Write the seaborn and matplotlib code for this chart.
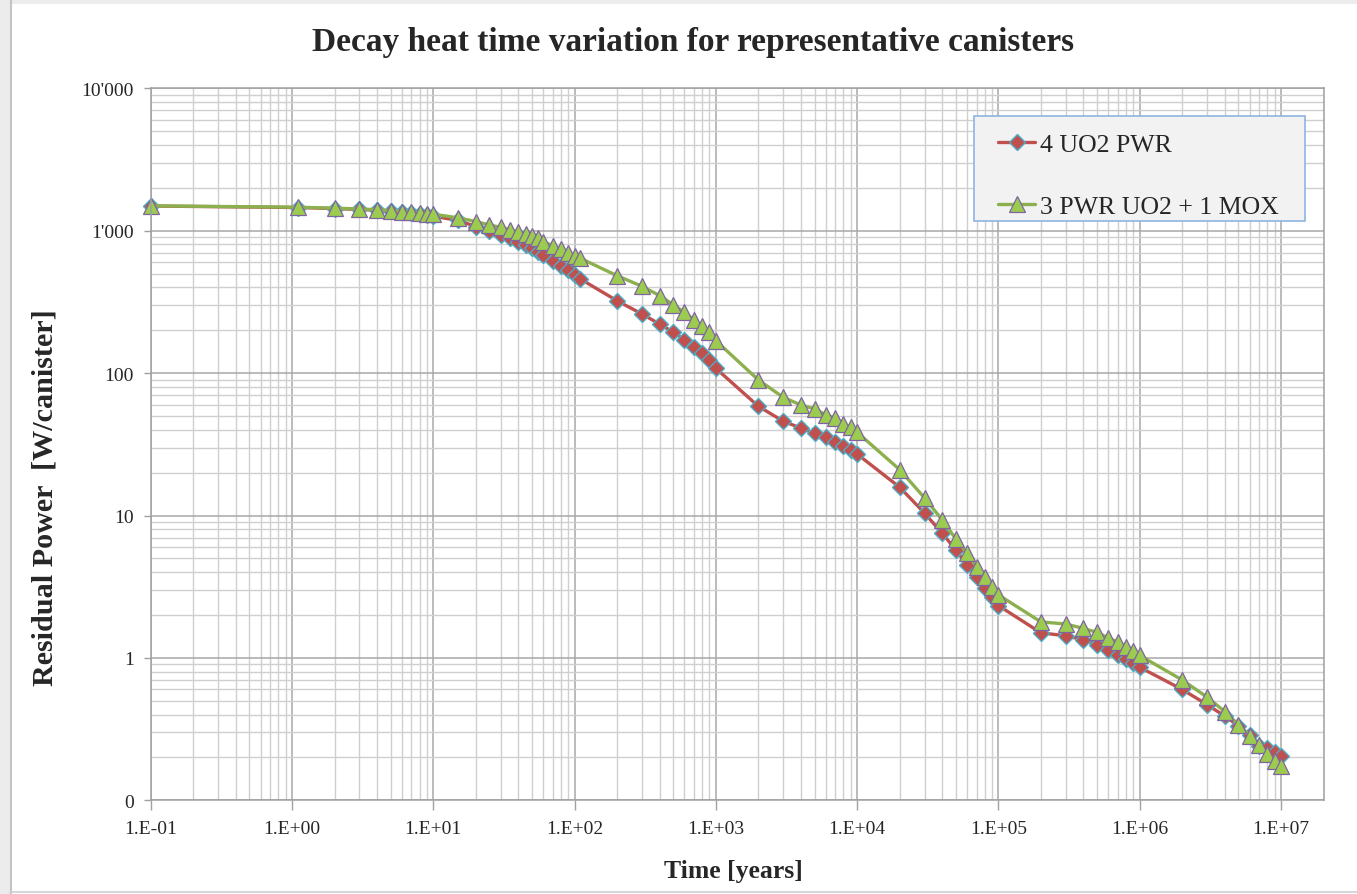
import pandas as pd
import seaborn as sns
import matplotlib.pyplot as plt
from matplotlib.ticker import FixedLocator, FixedFormatter, LogLocator, NullFormatter
from matplotlib.patches import Rectangle
from matplotlib.lines import Line2D

# time points [years]
years = [0.1, 1.1, 2, 3, 4, 5, 6, 7, 8, 9, 10,
         15, 20, 25, 30, 35, 40, 45, 50, 55, 60, 70, 80, 90, 100, 110,
         200, 300, 400, 500, 600, 700, 800, 900, 1000,
         2000, 3000, 4000, 5000, 6000, 7000, 8000, 9000, 10000,
         2e4, 3e4, 4e4, 5e4, 6e4, 7e4, 8e4, 9e4, 1e5,
         2e5, 3e5, 4e5, 5e5, 6e5, 7e5, 8e5, 9e5, 1e6,
         2e6, 3e6, 4e6, 5e6, 6e6, 7e6, 8e6, 9e6, 1e7]

# residual power [W/canister]
uo2_pwr = [1490, 1455, 1430, 1410, 1390, 1365, 1345, 1325, 1305, 1285, 1265,
           1180, 1070, 991, 934, 885, 838, 794, 752, 712, 675, 615, 568, 530, 489, 458,
           322, 260, 221, 194, 171, 153, 138, 124, 108,
           58.5, 45.9, 41.1, 37.8, 35.4, 33.0, 30.9, 29.0, 27.0,
           15.8, 10.4, 7.5, 5.73, 4.49, 3.72, 3.08, 2.67, 2.33,
           1.50, 1.43, 1.34, 1.24, 1.14, 1.05, 0.98, 0.92, 0.86,
           0.60, 0.47, 0.39, 0.334, 0.288, 0.242, 0.232, 0.219, 0.206]

pwr_mox = [1495, 1462, 1440, 1422, 1405, 1382, 1362, 1347, 1332, 1318, 1305,
           1232, 1160, 1096, 1057, 1012, 975, 948, 922, 885, 838, 785, 743, 697, 667, 640,
           483, 407, 350, 302, 267, 236, 215, 194, 169,
           89.5, 67.6, 59.7, 56.0, 51.0, 48.2, 44.0, 41.6, 38.4,
           21.0, 13.3, 9.3, 6.84, 5.43, 4.37, 3.68, 3.13, 2.77,
           1.79, 1.73, 1.61, 1.51, 1.38, 1.29, 1.19, 1.11, 1.04,
           0.70, 0.53, 0.42, 0.34, 0.284, 0.246, 0.211, 0.190, 0.175]

series_names = ['4 UO2 PWR', '3 PWR UO2 + 1 MOX']

x_ticks = [1e-1, 1e0, 1e1, 1e2, 1e3, 1e4, 1e5, 1e6, 1e7]
x_tick_labels = ['1.E-01', '1.E+00', '1.E+01', '1.E+02', '1.E+03',
                 '1.E+04', '1.E+05', '1.E+06', '1.E+07']
y_ticks = [0.1, 1, 10, 100, 1000, 10000]
y_tick_labels = ['0', '1', '10', '100', "1'000", "10'000"]

n = len(years)
df = pd.DataFrame({
    'years': years * 2,
    'power': uo2_pwr + pwr_mox,
    'canister': [series_names[0]] * n + [series_names[1]] * n,
})

sns.set_theme(style="white")
plt.rcParams['font.family'] = ['Liberation Serif', 'DejaVu Serif']

W, H = 1357, 895
fig = plt.figure(figsize=(W / 100, H / 100), dpi=100)

# plot area in pixels
px_l, px_r, px_t, px_b = 150.7, 1323.5, 89.3, 801.3
ax = fig.add_axes([px_l / W, 1 - px_b / H, (px_r - px_l) / W, (px_b - px_t) / H])

styles = {
    series_names[0]: dict(color='#C0504D', marker='D', markersize=8,
                          markerfacecolor='#C0504D', markeredgecolor='#4BACC6',
                          markeredgewidth=1.0),
    series_names[1]: dict(color='#8DB04F', marker='^', markersize=11,
                          markerfacecolor='#9BCB4F', markeredgecolor='#8064A2',
                          markeredgewidth=0.9),
}

for name in series_names:
    sub = df[df['canister'] == name]
    sns.lineplot(data=sub, x='years', y='power', ax=ax, linewidth=2.4,
                 legend=False, sort=False, clip_on=False, **styles[name])

ax.set_xscale('log')
ax.set_yscale('log')
ax.set_xlim(0.1, 2e7)
ax.set_ylim(0.1, 1e4)

ax.xaxis.set_major_locator(FixedLocator(x_ticks))
ax.xaxis.set_major_formatter(FixedFormatter(x_tick_labels))
ax.yaxis.set_major_locator(FixedLocator(y_ticks))
ax.yaxis.set_major_formatter(FixedFormatter(y_tick_labels))
ax.xaxis.set_minor_locator(LogLocator(base=10, subs=range(2, 10), numticks=50))
ax.yaxis.set_minor_locator(LogLocator(base=10, subs=range(2, 10), numticks=50))
ax.xaxis.set_minor_formatter(NullFormatter())
ax.yaxis.set_minor_formatter(NullFormatter())

ax.grid(which='major', color='#a8a8a8', linewidth=1.1)
ax.grid(which='minor', color='#cfcfcf', linewidth=1.0)
ax.set_axisbelow(True)

ax.tick_params(axis='x', which='major', direction='out', length=7, width=1,
               color='#a0a0a0', labelsize=14, pad=7, bottom=True)
ax.tick_params(axis='y', which='major', direction='out', length=5, width=1,
               color='#a0a0a0', labelsize=14, pad=7, left=True)
ax.tick_params(which='minor', length=0)
for side in ['left', 'bottom', 'top', 'right']:
    ax.spines[side].set_color('#a0a0a0')
    ax.spines[side].set_linewidth(1.1)

ax.set_xlabel('')
ax.set_ylabel('')

fig.text(693.5 / W, 1 - 42 / H, 'Decay heat time variation for representative canisters',
         ha='center', va='center', fontsize=24, fontweight='bold')
fig.text(733 / W, 1 - 872 / H, 'Time [years]',
         ha='center', va='center', fontsize=18.5, fontweight='bold')
fig.text(45 / W, 1 - 498 / H, 'Residual Power  [W/canister]', rotation=90,
         ha='center', va='center', fontsize=21.7, fontweight='bold')

# legend box
leg_l, leg_r, leg_t, leg_b = 974, 1305, 117, 222
fig.patches.append(Rectangle((leg_l / W, 1 - leg_b / H), (leg_r - leg_l) / W,
                             (leg_b - leg_t) / H, transform=fig.transFigure,
                             facecolor='#f2f2f2', edgecolor='#8eb4e3',
                             linewidth=1.2, zorder=3))
handles = [Line2D([], [], linewidth=2.4, **styles[nm]) for nm in series_names]
leg = fig.legend(handles, series_names, loc='upper left',
                 bbox_to_anchor=(998 / W, 1 - 134 / H),
                 frameon=False, fontsize=18.6, borderpad=0, borderaxespad=0,
                 handlelength=1.45, handletextpad=0.18, labelspacing=1.5)
leg.set_zorder(5)

# chart frame
fig.patches.append(Rectangle((0, 0), 10 / W, 1, transform=fig.transFigure,
                             facecolor='#ececec', edgecolor='none', zorder=0))
fig.add_artist(Line2D([10.5 / W, 10.5 / W], [0, 1], transform=fig.transFigure,
                      color='#c4c4c4', linewidth=1.5))
fig.patches.append(Rectangle((0, 1 - 5 / H), 1, 5 / H, transform=fig.transFigure,
                             facecolor='#ececec', edgecolor='none', zorder=0))
fig.add_artist(Line2D([10 / W, 1], [2.5 / H, 2.5 / H], transform=fig.transFigure,
                      color='#d0d0d0', linewidth=1.2))

fig.savefig('out.png', dpi=100)
